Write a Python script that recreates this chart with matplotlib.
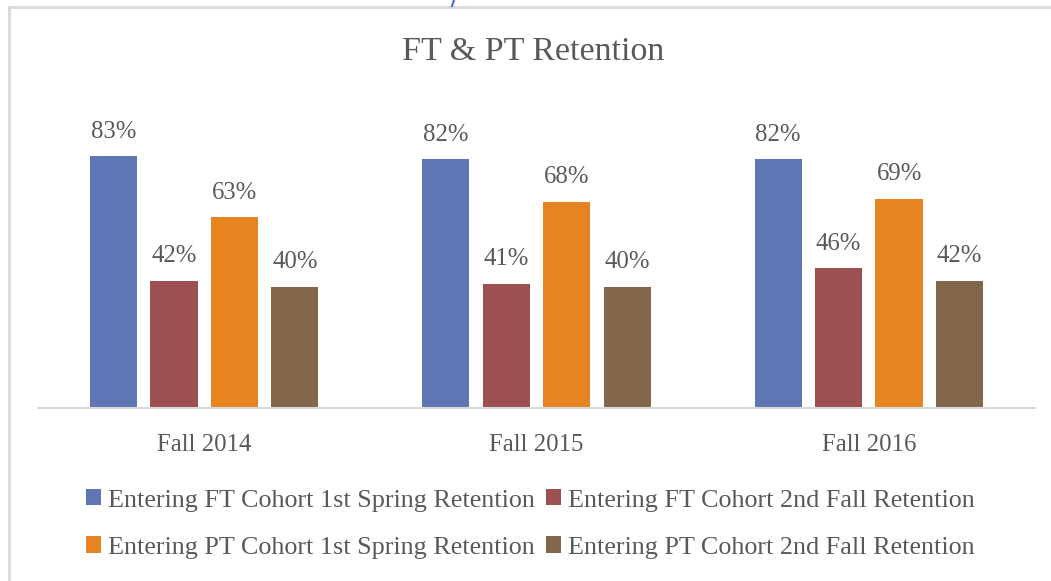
import matplotlib.pyplot as plt
import numpy as np
from matplotlib.lines import Line2D
from matplotlib.patches import Patch

plt.rcParams['font.family'] = ['Liberation Serif', 'DejaVu Serif']

# data
categories = ["Fall 2014", "Fall 2015", "Fall 2016"]
series = [
    "Entering FT Cohort 1st Spring Retention",
    "Entering FT Cohort 2nd Fall Retention",
    "Entering PT Cohort 1st Spring Retention",
    "Entering PT Cohort 2nd Fall Retention",
]
ft_spring = [83, 82, 82]
ft_fall = [42, 41, 46]
pt_spring = [63, 68, 69]
pt_fall = [40, 40, 42]
colors = ["#5F76B5", "#9C5052", "#E68422", "#83674A"]
text_color = "#595959"

W, H = 1051, 581
fig = plt.figure(figsize=(W / 100, H / 100), dpi=100)

# chart-area frame (left and top edges only are visible)
fig.add_artist(Line2D([8.5 / W, 8.5 / W], [0, 1 - 6.5 / H], transform=fig.transFigure,
                      color="#D9D9D9", linewidth=2))
fig.add_artist(Line2D([8.5 / W, 1], [1 - 6.5 / H, 1 - 6.5 / H], transform=fig.transFigure,
                      color="#D9D9D9", linewidth=2))
fig.add_artist(Line2D([454 / W, 452 / W], [1, 1 - 6 / H], transform=fig.transFigure,
                      color="#4472C4", linewidth=1.5))

ax = fig.add_axes([38 / W, 1 - 408 / H, 997 / W, 273 / H])
x = np.arange(len(categories))
step = 0.182
width = 0.142
values = [ft_spring, ft_fall, pt_spring, pt_fall]
for i, (vals, c) in enumerate(zip(values, colors)):
    pos = x + (i - 1.5) * step
    ax.bar(pos, vals, width=width, color=c, zorder=2)
    for p, v in zip(pos, vals):
        ax.annotate(f"{v}%", (p, v), xytext=(0, 17.5), textcoords="offset points",
                    ha="center", va="center", fontsize=17.8, color=text_color)

ax.set_xlim(-0.5, 2.5)
ax.set_ylim(0, 90)
for s in ["top", "right", "left"]:
    ax.spines[s].set_visible(False)
ax.spines["bottom"].set_color("#D9D9D9")
ax.spines["bottom"].set_linewidth(1.5)
ax.set_yticks([])
ax.set_xticks(x)
ax.set_xticklabels(categories, fontsize=17.8, color=text_color)
ax.tick_params(axis="x", length=0, pad=18.5)

fig.text(533 / W, 1 - 52 / H, "FT & PT Retention", ha="center", va="center",
         fontsize=24.5, color=text_color)

handles = [Patch(facecolor=c, edgecolor="none") for c in colors]
order = [0, 2, 1, 3]
leg = fig.legend([handles[i] for i in order], [series[i] for i in order],
                 ncol=2, loc="center", bbox_to_anchor=(530 / W, 1 - 524 / H),
                 frameon=False, fontsize=18.8, handlelength=0.575, handleheight=0.575,
                 handletextpad=0.27, columnspacing=0.42, labelspacing=0.95,
                 labelcolor=text_color)

fig.savefig("out.png", dpi=100)
